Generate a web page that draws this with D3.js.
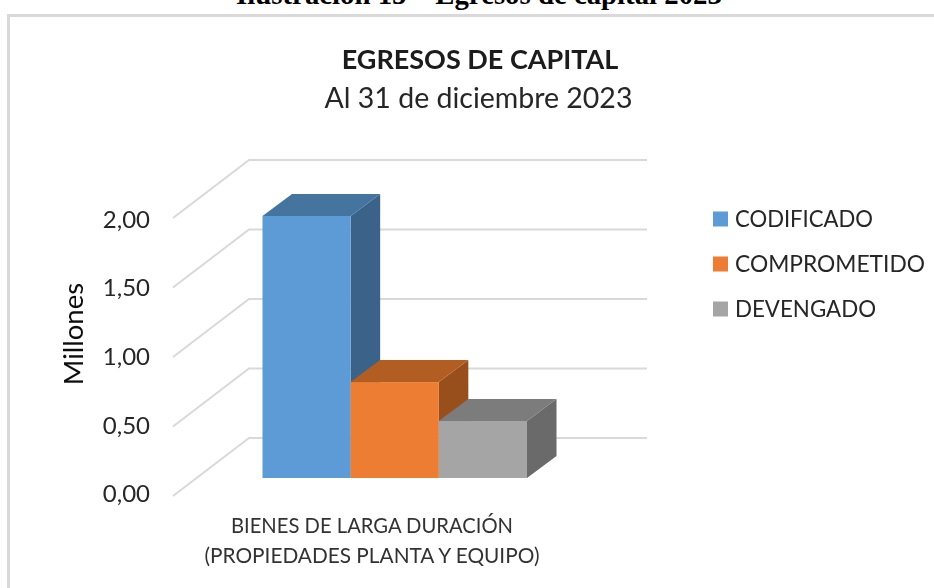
<!DOCTYPE html>
<html><head><meta charset="utf-8">
<script src="https://cdn.jsdelivr.net/npm/d3@7"></script>
<style>html,body{margin:0;padding:0;background:#fff}svg{display:block}text{font-family:Lato,"Open Sans",sans-serif;fill:#262626}</style>
</head><body><div id="c"></div>
<script>
const caption = "Ilustración 15 – Egresos de capital 2023";
const title = "EGRESOS DE CAPITAL";
const subtitle = "Al 31 de diciembre 2023";
const yAxisTitle = "Millones";
const categoryLines = ["BIENES DE LARGA DURACIÓN", "(PROPIEDADES PLANTA Y EQUIPO)"];
const seriesNames = ["CODIFICADO", "COMPROMETIDO", "DEVENGADO"];
const seriesValues = [1.885, 0.69, 0.41];
const yTicks = [0, 0.5, 1, 1.5, 2];
const frontColors = ["#5b9bd5", "#ed7d31", "#a5a5a5"];
const topColors = ["#44749f", "#b25d24", "#7c7c7c"];
const sideColors = ["#3a6489", "#98501f", "#6a6a6a"];

const W = 934, H = 588;
const svg = d3.select("#c").append("svg").attr("width", W).attr("height", H);
const defs = svg.append("defs");
defs.append("filter").attr("id", "soft").append("feGaussianBlur").attr("stdDeviation", 0.4);

// chart frame (open at right and bottom because the picture is cropped)
svg.append("path").attr("d", `M8.5,${H} V15.5 H${W}`).attr("fill", "none").attr("stroke", "#d9d9d9").attr("stroke-width", 3);

svg.append("text").attr("x", 479).attr("y", 3.5).attr("text-anchor", "middle")
  .style("font-family", "'Liberation Serif',serif").style("font-weight", 700).style("font-size", "28.8px").style("fill", "#000").text(caption);

const g = svg.append("g").attr("filter", "url(#soft)");

g.append("text").attr("x", 480).attr("y", 69).attr("text-anchor", "middle")
  .style("font-size", "27px").style("font-weight", 700).style("fill", "#1a1a1a").text(title);
g.append("text").attr("x", 478.5).attr("y", 108).attr("text-anchor", "middle")
  .style("font-size", "28.5px").text(subtitle);

// scales
const y = d3.scaleLinear().domain([0, 2]).range([438, 160]);
const yLabel = d3.scaleLinear().domain([0, 2]).range([493.5, 219]);
const x = d3.scaleBand().domain(seriesNames).range([262.5, 527]).padding(0);
const wallDx = 76, wallDy = 58, wallLeft = 249, wallRight = 647;
const barDx = 29.5, barDy = 22, barBase = 478;
const barH = d3.scaleLinear().domain([0, 2]).range([0, y(0) - y(2)]);

// gridlines
g.append("g").selectAll("path").data(yTicks).join("path")
  .attr("d", d => `M${wallLeft - wallDx},${y(d) + wallDy} L${wallLeft},${y(d)} H${wallRight}`)
  .attr("fill", "none").attr("stroke", "#d9d9d9").attr("stroke-width", 2);

// tick labels
const fmt = d => d3.format(".2f")(d).replace(".", ",");
g.append("g").selectAll("text").data(yTicks).join("text")
  .attr("x", 150).attr("y", d => yLabel(d)).attr("dy", "0.36em").attr("text-anchor", "end")
  .style("font-size", "24px").text(fmt);

g.append("text").attr("transform", "translate(83,334) rotate(-90)").attr("text-anchor", "middle")
  .style("font-size", "27.5px").style("fill", "#111").text(yAxisTitle);

// bars, drawn so each later one overlaps the earlier side face
const bars = g.append("g").selectAll("g").data(seriesNames).join("g");
bars.append("path").attr("fill", (d, i) => sideColors[i]).attr("d", (d, i) => {
  const r = x(d) + x.bandwidth(), t = barBase - barH(seriesValues[i]);
  return `M${r},${t} l${barDx},${-barDy} V${barBase - barDy} L${r},${barBase} Z`;
});
bars.append("path").attr("fill", (d, i) => topColors[i]).attr("d", (d, i) => {
  const l = x(d), t = barBase - barH(seriesValues[i]);
  return `M${l},${t} l${barDx},${-barDy} h${x.bandwidth()} l${-barDx},${barDy} Z`;
});
bars.append("rect").attr("fill", (d, i) => frontColors[i])
  .attr("x", d => x(d)).attr("width", x.bandwidth())
  .attr("y", (d, i) => barBase - barH(seriesValues[i]))
  .attr("height", (d, i) => barH(seriesValues[i]));

// category label
g.append("g").selectAll("text").data(categoryLines).join("text")
  .attr("x", 372).attr("y", (d, i) => 533 + i * 30).attr("text-anchor", "middle")
  .attr("textLength", (d, i) => [282, 335][i]).attr("lengthAdjust", "spacingAndGlyphs")
  .style("font-size", "20.5px").style("fill", "#333").text(d => d);

// legend
const legendY = d3.scalePoint().domain(seriesNames).range([219, 309]);
const leg = g.append("g").selectAll("g").data(seriesNames).join("g")
  .attr("transform", d => `translate(713,${legendY(d)})`);
leg.append("rect").attr("y", -7.5).attr("width", 15).attr("height", 15).attr("fill", (d, i) => frontColors[i]);
leg.append("text").attr("x", 22).attr("dy", "0.36em")
  .attr("textLength", (d, i) => [138, 190, 141][i]).attr("lengthAdjust", "spacingAndGlyphs")
  .style("font-size", "23px").text(d => d);
</script></body></html>
